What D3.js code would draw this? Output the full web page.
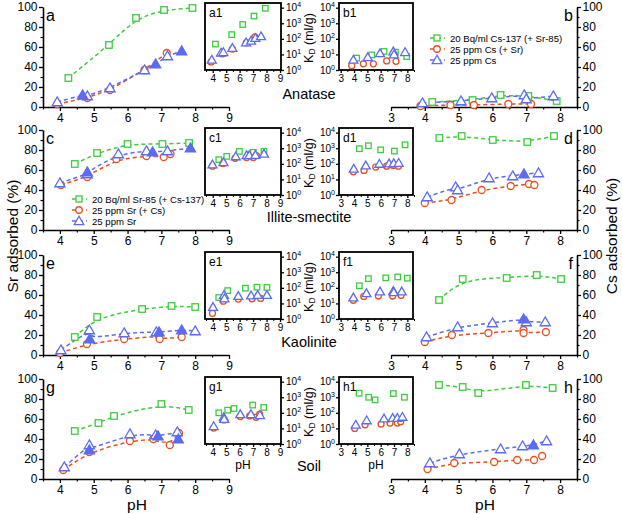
<!DOCTYPE html>
<html><head><meta charset="utf-8">
<script src="https://cdn.jsdelivr.net/npm/d3@7"></script>
<style>body{margin:0;background:#fff} svg{display:block;font-family:"Liberation Sans",Arial,sans-serif}</style>
</head><body><svg id="chart" width="622" height="514"></svg>
<script>
// ---------- DATA: main panels, [pH, % adsorbed] ----------
const a_green = [[4.25,29],[5.45,62],[6.25,89],[7.08,97],[7.92,99]];
const a_red   = [[3.92,3],[4.81,9],[5.48,17],[6.5,37],[7.16,54]];
const a_blue  = [[3.92,5],[4.81,11],[5.48,19],[6.5,37],[7.18,51]];
const a_blueF = [[4.67,12],[6.83,43],[7.6,56]];

const b_green = [[4.22,5],[5.41,7],[6.24,12],[7.06,11],[7.9,6]];
const b_red   = [[3.87,1],[4.76,2],[5.45,2],[6.47,3],[7.14,3]];
const b_blue  = [[3.93,4],[5.07,6],[5.98,9],[6.94,12],[7.0,8],[7.8,11]];
const b_blueF = [];

const c_green = [[4.44,66],[5.1,77],[6.0,86],[7.03,86],[7.82,87]];
const c_red   = [[4.03,45],[4.81,53],[5.67,71],[6.56,74],[7.07,73],[7.27,76]];
const c_blue  = [[4.0,47],[4.81,56],[5.73,76],[6.56,79],[7.18,79]];
const c_blueF = [[4.81,58],[6.74,78],[7.86,82]];

const d_green = [[4.43,92],[5.09,94],[6.01,90],[7.03,88],[7.82,94]];
const d_red   = [[4.0,27],[4.79,30],[5.68,40],[6.54,44],[7.08,46],[7.24,45]];
const d_blue  = [[4.07,33],[4.91,43],[4.97,40],[5.9,52],[6.6,54],[7.36,57]];
const d_blueF = [[6.93,56]];

const e_green = [[4.44,18],[5.1,38],[6.43,46],[7.3,49],[8.0,48]];
const e_red   = [[4.0,2],[4.8,11],[5.9,16],[6.93,19],[6.95,16],[7.6,18]];
const e_blue  = [[4.03,5],[4.87,25],[5.9,22],[6.85,23],[8.0,24]];
const e_blueF = [[4.88,16],[6.93,23],[7.6,25]];

const f_green = [[4.42,55],[5.12,76],[6.42,77],[7.31,80],[8.03,76]];
const f_red   = [[4.0,13],[4.8,20],[5.88,22],[6.92,25],[6.92,22],[7.58,23]];
const f_blue  = [[4.05,18],[4.97,28],[6.0,32],[7.0,33],[7.56,33]];
const f_blueF = [[6.92,36]];

const g_green = [[4.44,48],[5.14,56],[5.6,63],[7.0,75],[7.81,69]];
const g_red   = [[4.1,9],[4.87,27],[6.07,38],[6.76,40],[7.25,34],[7.52,46]];
const g_blue  = [[4.13,12],[4.87,34],[6.07,45],[6.83,44],[7.47,47]];
const g_blueF = [[4.87,29],[6.9,43],[7.5,40]];

const h_green = [[4.42,94],[5.12,92],[5.58,86],[6.99,94],[7.78,91]];
const h_red   = [[4.08,10],[4.87,16],[6.05,17],[6.73,19],[7.23,19],[7.47,23]];
const h_blue  = [[4.15,16],[5.02,25],[6.24,30],[6.89,33],[7.6,38]];
const h_blueF = [[7.21,34]];

// ---------- DATA: insets, [pH, K_D (ml/g)] ----------
const a1_green = [[4.2,46],[5.41,186],[6.23,830],[7.07,2900],[7.91,9100]];
const a1_red   = [[3.88,3.3],[4.72,11],[5.46,22],[6.5,56],[7.14,132]];
const a1_blue  = [[3.93,4.5],[4.62,13],[4.79,14],[5.46,26],[6.48,59],[6.85,76],[7.17,112],[7.59,145]];

const b1_green = [[4.2,5.8],[5.33,9.3],[6.25,15.5],[7.1,14],[7.95,7.2]];
const b1_red   = [[3.83,1.9],[4.7,2.5],[5.45,2.5],[6.45,3.8],[7.15,3.6]];
const b1_blue  = [[3.95,4.5],[5.03,6.6],[5.95,12],[6.95,15.5],[7.0,10],[7.83,14]];

const c1_green = [[4.45,186],[5.04,302],[5.98,630],[7.02,550],[7.81,630]];
const c1_red   = [[3.98,71],[4.77,105],[5.66,229],[6.52,251],[7.02,251],[7.24,339]];
const c1_blue  = [[3.98,91],[4.8,126],[5.71,302],[6.52,355],[6.72,355],[7.17,372],[7.81,447]];

const d1_green = [[4.4,933],[5.08,1445],[6.0,794],[7.03,661],[7.83,1660]];
const d1_red   = [[3.95,31],[4.75,38],[5.63,62],[6.45,71],[6.95,78],[7.33,71]];
const d1_blue  = [[3.98,48],[4.88,78],[5.9,100],[6.63,105],[6.98,110],[7.35,115]];

const e1_green = [[4.45,24],[5.11,66],[6.43,95],[7.29,110],[8.03,105]];
const e1_red   = [[3.98,2.3],[4.79,14],[5.9,19],[6.92,20],[7.56,21]];
const e1_blue  = [[4.02,5.9],[4.84,35],[4.87,21],[5.9,30],[6.85,32],[7.34,35],[8.03,35]];

const f1_green = [[4.4,135],[5.08,389],[6.38,437],[7.28,501],[8.0,417]];
const f1_red   = [[3.95,16],[4.73,28],[5.83,30],[6.9,30],[7.53,33]];
const f1_blue  = [[3.95,24],[4.93,45],[5.95,58],[6.95,63],[6.98,52],[7.58,58]];

const g1_green = [[4.45,100],[5.11,148],[5.58,190],[6.97,316],[7.79,224]];
const g1_red   = [[4.07,10.5],[4.84,35],[6.05,58],[6.75,63],[7.22,52],[7.49,81]];
const g1_blue  = [[4.07,14],[4.82,52],[4.85,40],[6.05,81],[6.84,81],[7.51,71]];

const h1_green = [[4.38,1820],[5.1,1000],[5.58,676],[6.95,1738],[7.78,1000]];
const h1_red   = [[4.05,10],[4.83,17],[6.03,19],[6.7,22],[7.25,22],[7.5,27]];
const h1_blue  = [[4.13,17],[4.95,33],[6.25,43],[6.9,47],[7.25,47],[7.63,55]];

// ---------- TEXT ----------
const panelLetters = ["a","b","c","d","e","f","g","h"];
const insetLetters = ["a1","b1","c1","d1","e1","f1","g1","h1"];
const rowTitles = ["Anatase","Illite-smectite","Kaolinite","Soil"];
const csLegend = ["20 Bq/ml Cs-137 (+ Sr-85)","25 ppm Cs (+ Sr)","25 ppm Cs"];
const srLegend = ["20 Bq/ml Sr-85 (+ Cs-137)","25 ppm Sr (+ Cs)","25 ppm Sr"];
const yTicks = [0,20,40,60,80,100];
const xTicksL = [4,5,6,7,8,9];
const xTicksR = [3,4,5,6,7,8];
const kdTicks = [1,10,100,1000,10000];

// ---------- STYLE ----------
const GREEN = "#3dcc3d", RED = "#e8501c", BLUE = "#5b6bf2";
const svg = d3.select("#chart");
const rowTops = [7,130,255,379];
const insetTops = [3,128,252,377];

const mains = [
  {g:a_green,r:a_red,b:a_blue,bf:a_blueF},{g:b_green,r:b_red,b:b_blue,bf:b_blueF},
  {g:c_green,r:c_red,b:c_blue,bf:c_blueF},{g:d_green,r:d_red,b:d_blue,bf:d_blueF},
  {g:e_green,r:e_red,b:e_blue,bf:e_blueF},{g:f_green,r:f_red,b:f_blue,bf:f_blueF},
  {g:g_green,r:g_red,b:g_blue,bf:g_blueF},{g:h_green,r:h_red,b:h_blue,bf:h_blueF}];
const insets = [
  {g:a1_green,r:a1_red,b:a1_blue},{g:b1_green,r:b1_red,b:b1_blue},
  {g:c1_green,r:c1_red,b:c1_blue},{g:d1_green,r:d1_red,b:d1_blue},
  {g:e1_green,r:e1_red,b:e1_blue},{g:f1_green,r:f1_red,b:f1_blue},
  {g:g1_green,r:g1_red,b:g1_blue},{g:h1_green,r:h1_red,b:h1_blue}];

function marker(g, type, data, x, y, s, filled) {
  const col = type==="g"?GREEN:type==="r"?RED:BLUE;
  const sel = g.append("g").attr("fill", filled?col:"#fff").attr("stroke", col).attr("stroke-width", 1.3);
  data.forEach(d => {
    const cx = x(d[0]), cy = y(d[1]);
    if (type==="g") sel.append("rect").attr("x", cx-s/2).attr("y", cy-s/2).attr("width", s).attr("height", s);
    else if (type==="r") sel.append("circle").attr("cx", cx).attr("cy", cy).attr("r", s*0.5);
    else sel.append("path").attr("d", d3.symbol(d3.symbolTriangle, s*s*0.62)()).attr("transform", `translate(${cx},${cy+0.8})`);
  });
}

function styleAxis(ax, fs) {
  ax.select(".domain").attr("stroke-width", 1.6);
  ax.selectAll(".tick line").attr("stroke-width", 1.3);
  ax.selectAll("text").attr("font-size", fs).attr("font-family", '"Liberation Sans",Arial,sans-serif').attr("fill", "#000");
}

// ---------- MAIN PANELS ----------
mains.forEach((p, i) => {
  const left = i%2===0, row = Math.floor(i/2), top = rowTops[row], bot = top+100;
  const x = left ? d3.scaleLinear().domain([3.5,9]).range([43,229]) : d3.scaleLinear().domain([3,8.5]).range([391,577]);
  const y = d3.scaleLinear().domain([0,100]).range([bot, top]);
  const g = svg.append("g");
  // x axis
  const xa = g.append("g").attr("transform", `translate(0,${bot})`)
    .call(d3.axisBottom(x).tickValues(left?xTicksL:xTicksR).tickFormat(d3.format("d")).tickSize(4).tickSizeOuter(0).tickPadding(2));
  styleAxis(xa, 12);
  const xm = g.append("g").attr("transform", `translate(0,${bot})`)
    .call(d3.axisBottom(x).tickValues(d3.range(left?3.5:3.5, left?9:8.6, 1)).tickFormat("").tickSize(2.5).tickSizeOuter(0));
  xm.select(".domain").remove(); xm.selectAll("line").attr("stroke-width",1.2);
  // y axis
  const ya = g.append("g").attr("transform", `translate(${x.range()[left?0:1]},0)`)
    .call((left?d3.axisLeft(y):d3.axisRight(y)).tickValues(yTicks).tickSize(4).tickSizeOuter(0).tickPadding(1.5));
  styleAxis(ya, 12);
  const ym = g.append("g").attr("transform", `translate(${x.range()[left?0:1]},0)`)
    .call((left?d3.axisLeft(y):d3.axisRight(y)).tickValues([10,30,50,70,90]).tickFormat("").tickSize(2.5).tickSizeOuter(0));
  ym.select(".domain").remove(); ym.selectAll("line").attr("stroke-width",1.2);
  // fit lines
  const line = d3.line().x(d=>x(d[0])).y(d=>y(d[1])).curve(d3.curveBasis);
  [["g",p.g],["r",p.r],["b",p.b.concat(p.bf)]].forEach(([t,data]) => {
    const s = data.slice().sort((u,v)=>u[0]-v[0]);
    g.append("path").attr("d", line(s)).attr("fill","none")
      .attr("stroke", t==="g"?GREEN:t==="r"?RED:BLUE).attr("stroke-width",1.5).attr("stroke-dasharray","4,3");
  });
  marker(g,"g",p.g,x,y,6.5,false);
  marker(g,"r",p.r,x,y,7,false);
  marker(g,"b",p.b,x,y,8.5,false);
  marker(g,"b",p.bf,x,y,8.5,true);
  // letter
  g.append("text").attr("x", left?46:573).attr("y", top+14).attr("text-anchor", left?"start":"end")
    .attr("font-size", 16).text(panelLetters[i]);
});

// ---------- INSETS ----------
insets.forEach((p, i) => {
  const left = i%2===0, row = Math.floor(i/2), top = insetTops[row], bot = top+67;
  const bx0 = left?205:339, bx1 = left?281:413;
  const x = left ? d3.scaleLinear().domain([3.5,9]).range([206,280]) : d3.scaleLinear().domain([3,8.5]).range([340.7,414]);
  const y = d3.scaleLog().domain([1, Math.pow(10,4.3)]).range([bot, top]);
  const g = svg.append("g");
  g.append("rect").attr("x",bx0).attr("y",top).attr("width",bx1-bx0).attr("height",bot-top)
    .attr("fill","#fff").attr("stroke","#000").attr("stroke-width",1.8);
  const xa = g.append("g").attr("transform", `translate(0,${bot})`)
    .call(d3.axisBottom(x).tickValues(left?xTicksL:xTicksR).tickFormat(d3.format("d")).tickSize(3).tickSizeOuter(0).tickPadding(2));
  xa.select(".domain").remove(); styleAxis(xa, 10);
  const xm = g.append("g").attr("transform", `translate(0,${bot})`)
    .call(d3.axisBottom(x).tickValues(d3.range(3.5, left?9:8.6, 1)).tickFormat("").tickSize(2).tickSizeOuter(0));
  xm.select(".domain").remove();
  const yx = left?bx1:bx0;
  const ya = g.append("g").attr("transform", `translate(${yx},0)`)
    .call((left?d3.axisRight(y):d3.axisLeft(y)).tickValues(kdTicks).tickFormat("").tickSize(3).tickSizeOuter(0));
  ya.select(".domain").remove(); ya.selectAll("line").attr("stroke-width",1.3);
  kdTicks.forEach(v => {
    const t = g.append("text").attr("x", left?yx+5:yx-4).attr("y", y(v)+3.5)
      .attr("text-anchor", left?"start":"end").attr("font-size",10);
    t.append("tspan").text("10");
    t.append("tspan").attr("dy",-4).attr("font-size",7).text(String(Math.round(Math.log10(v))));
  });
  marker(g,"g",p.g,x,y,5.5,false);
  marker(g,"r",p.r,x,y,6,false);
  marker(g,"b",p.b,x,y,7.5,false);
  g.append("text").attr("x", bx0+4).attr("y", top+14).attr("font-size",12).text(insetLetters[i]);
  if (row===3) g.append("text").attr("x",(bx0+bx1)/2).attr("y",bot+25).attr("text-anchor","middle").attr("font-size",12).text("pH");
});

// ---------- KD labels and row titles ----------
rowTops.forEach((top, r) => {
  const t = svg.append("text").attr("transform", `translate(312.5,${insetTops[r]+35}) rotate(-90)`)
    .attr("text-anchor","middle").attr("font-size",12.5);
  t.append("tspan").text("K");
  t.append("tspan").attr("font-size",8.5).attr("dy",2).text("D");
  t.append("tspan").attr("dy",-2).text(" (ml/g)");
  svg.append("text").attr("x",309).attr("y",top+92).attr("text-anchor","middle").attr("font-size",14.5).text(rowTitles[r]);
});

// ---------- Legends ----------
function legend(x0, y0, labels) {
  const cols = [GREEN, RED, BLUE], types = ["g","r","b"];
  labels.forEach((lab, k) => {
    const cy = y0 + k*11;
    svg.append("line").attr("x1",x0).attr("x2",x0+16).attr("y1",cy).attr("y2",cy)
      .attr("stroke",cols[k]).attr("stroke-width",1.5).attr("stroke-dasharray","4,3").attr("stroke-dashoffset",-1);
    const idx = d3.scaleLinear(), idy = d3.scaleLinear();
    marker(svg, types[k], [[x0+8, cy]], idx, idy, k===2?8:k===1?6.5:6, false);
    svg.append("text").attr("x", x0+21).attr("y", cy+3.5).attr("font-size",9.6).text(lab);
  });
}
legend(429, rowTops[0]+31, csLegend);
legend(71, rowTops[1]+69, srLegend);

// ---------- Axis titles ----------
svg.append("text").attr("transform","translate(18,236) rotate(-90)").attr("text-anchor","middle").attr("font-size",15.5).text("Sr adsorbed (%)");
svg.append("text").attr("transform","translate(617,236) rotate(-90)").attr("text-anchor","middle").attr("font-size",15.5).text("Cs adsorbed (%)");
svg.append("text").attr("x",137).attr("y",510).attr("text-anchor","middle").attr("font-size",15.5).text("pH");
svg.append("text").attr("x",485).attr("y",510).attr("text-anchor","middle").attr("font-size",15.5).text("pH");
</script></body></html>
